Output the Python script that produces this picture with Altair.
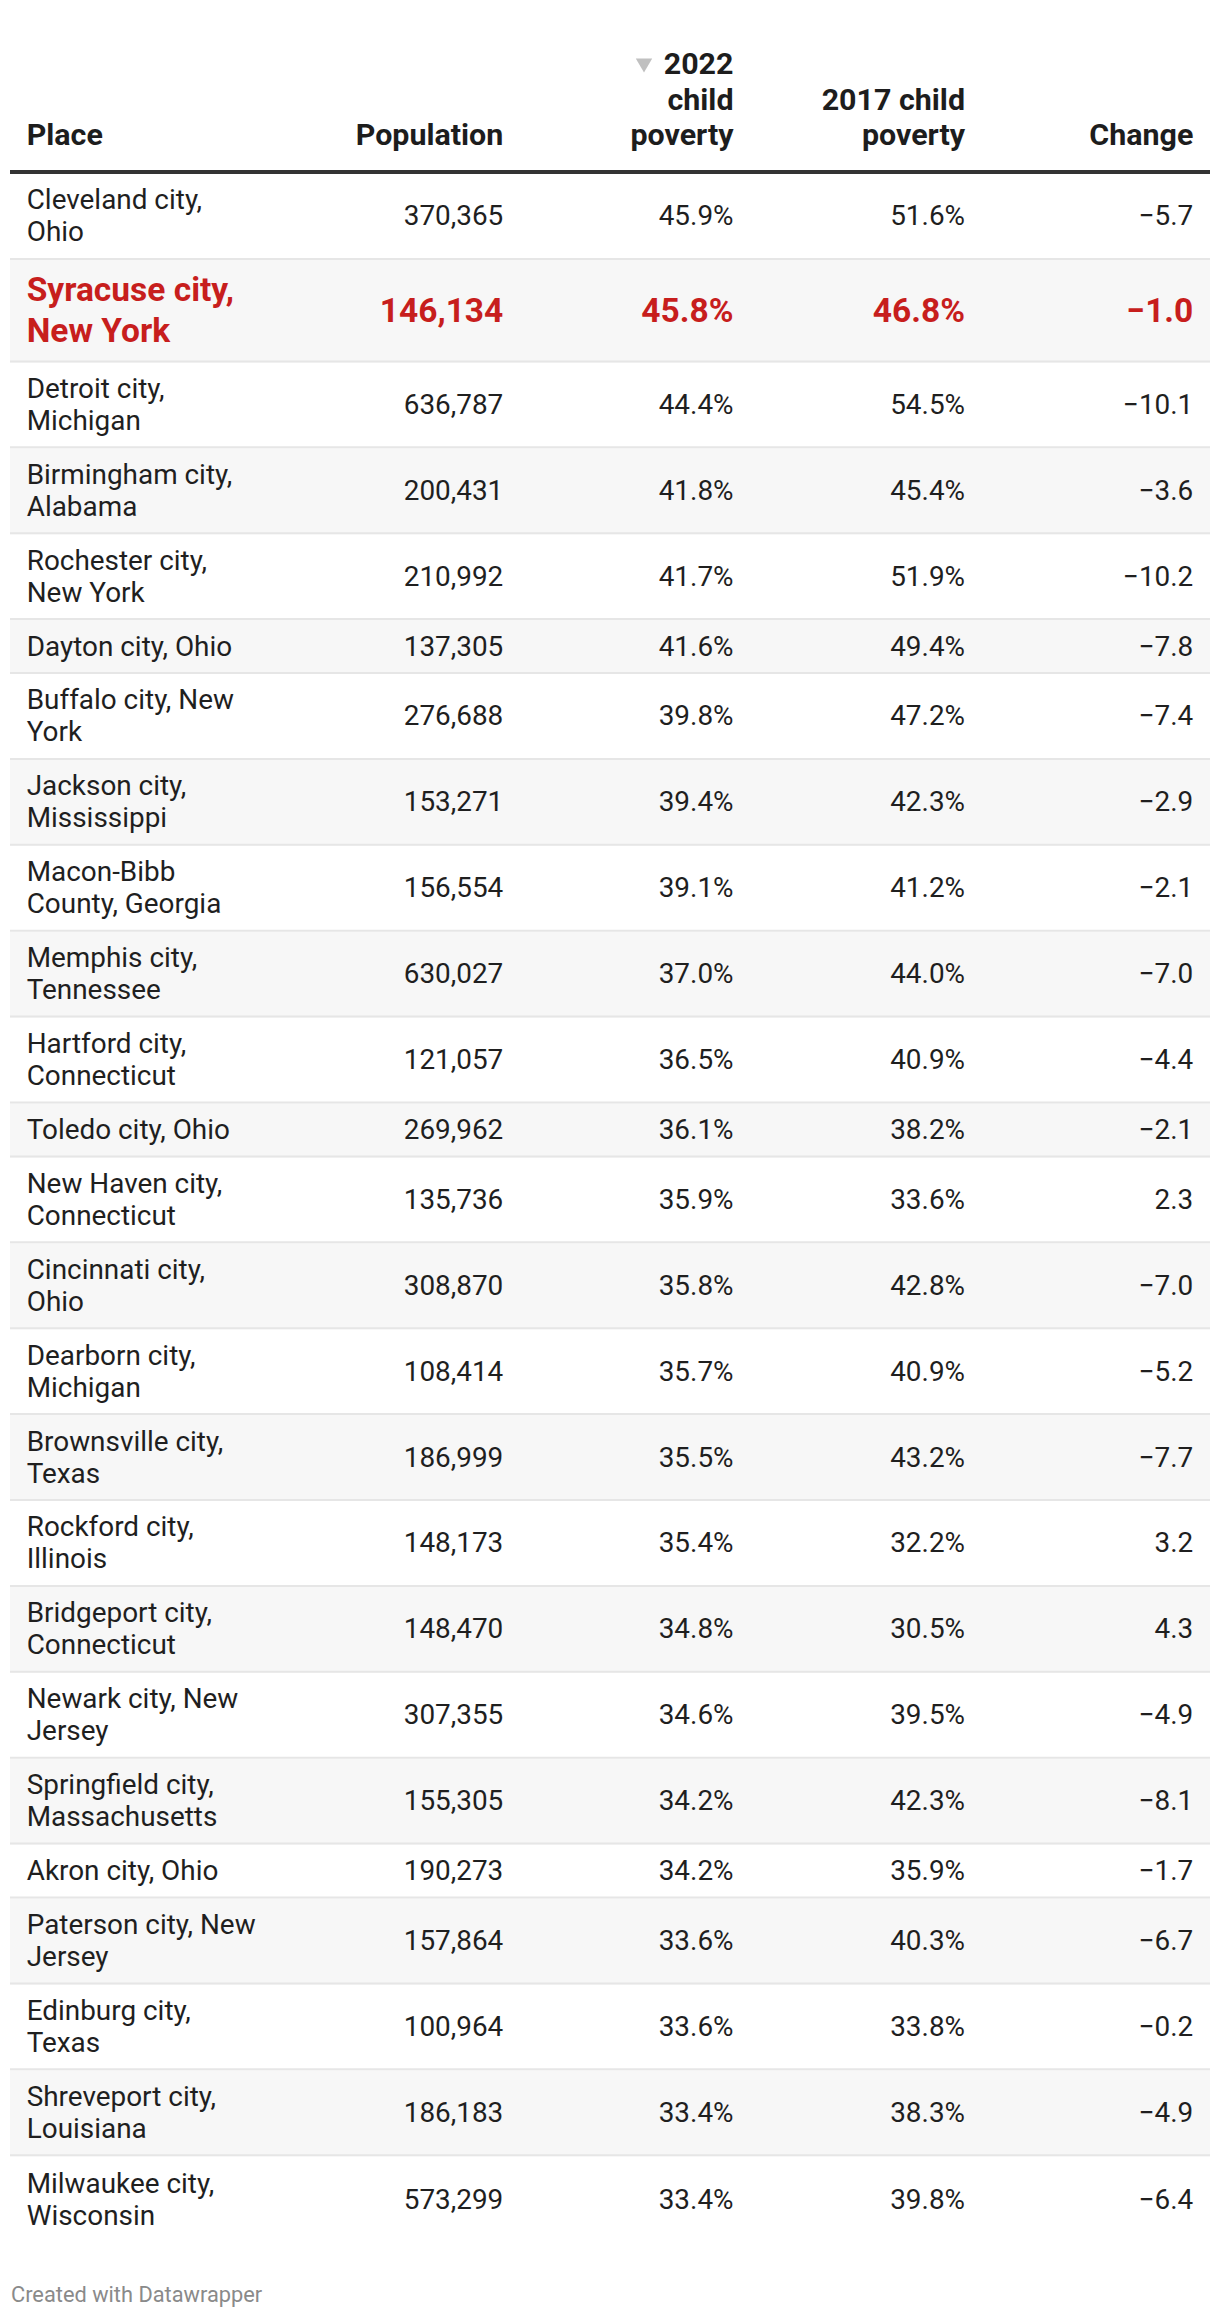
import altair as alt
import pandas as pd

# ---------------- data ----------------
headers = ["Place", "Population", "2022\nchild\npoverty", "2017 child\npoverty", "Change"]
places = [
    "Cleveland city,\nOhio", "Syracuse city,\nNew York", "Detroit city,\nMichigan",
    "Birmingham city,\nAlabama", "Rochester city,\nNew York", "Dayton city, Ohio",
    "Buffalo city, New\nYork", "Jackson city,\nMississippi", "Macon-Bibb\nCounty, Georgia",
    "Memphis city,\nTennessee", "Hartford city,\nConnecticut", "Toledo city, Ohio",
    "New Haven city,\nConnecticut", "Cincinnati city,\nOhio", "Dearborn city,\nMichigan",
    "Brownsville city,\nTexas", "Rockford city,\nIllinois", "Bridgeport city,\nConnecticut",
    "Newark city, New\nJersey", "Springfield city,\nMassachusetts", "Akron city, Ohio",
    "Paterson city, New\nJersey", "Edinburg city,\nTexas", "Shreveport city,\nLouisiana",
    "Milwaukee city,\nWisconsin",
]
population = [370365, 146134, 636787, 200431, 210992, 137305, 276688, 153271, 156554,
              630027, 121057, 269962, 135736, 308870, 108414, 186999, 148173, 148470,
              307355, 155305, 190273, 157864, 100964, 186183, 573299]
poverty_2022 = [45.9, 45.8, 44.4, 41.8, 41.7, 41.6, 39.8, 39.4, 39.1, 37.0, 36.5, 36.1,
                35.9, 35.8, 35.7, 35.5, 35.4, 34.8, 34.6, 34.2, 34.2, 33.6, 33.6, 33.4, 33.4]
poverty_2017 = [51.6, 46.8, 54.5, 45.4, 51.9, 49.4, 47.2, 42.3, 41.2, 44.0, 40.9, 38.2,
                33.6, 42.8, 40.9, 43.2, 32.2, 30.5, 39.5, 42.3, 35.9, 40.3, 33.8, 38.3, 39.8]
change = [-5.7, -1.0, -10.1, -3.6, -10.2, -7.8, -7.4, -2.9, -2.1, -7.0, -4.4, -2.1,
          2.3, -7.0, -5.2, -7.7, 3.2, 4.3, -4.9, -8.1, -1.7, -6.7, -0.2, -4.9, -6.4]
highlight = "Syracuse city,\nNew York"
footer = "Created with Datawrapper"

# ---------------- layout ----------------
W, H = 1204, 2300
OFF = 8
col_x = [26.7 - OFF, 503.3 - OFF, 733.5 - OFF, 965 - OFF, 1193.3 - OFF]
L, R = 10 - OFF, 1210 - OFF
FS, LH = 27.9, 32.0
FS_HL, LH_HL = 33.5, 40.3
FS_HEAD, LH_HEAD = 30.4, 35.3
PAD = 21.9
TEXT = "#1f1f1f"
RED = "#c71e1d"


def fmt_pop(v):
    return f"{v:,}"


def fmt_pct(v):
    return f"{v:.1f}%"


def fmt_chg(v):
    return f"{v:.1f}".replace("-", "\u2212")


text_rows = []   # x, y, text, color, size, align, bold
rect_rows = []
rule_rows = []

# header
head_base = 145 - OFF
for c, h in enumerate(headers):
    lines = h.split("\n")
    n = len(lines)
    for i, ln in enumerate(lines):
        text_rows.append(dict(x=col_x[c], y=head_base - (n - 1 - i) * LH_HEAD, text=ln,
                              color="#1d1d1d", size=FS_HEAD,
                              align="left" if c == 0 else "right", bold=True))
rule_rows.append(dict(x1=L, x2=R, y=172 - OFF, color="#333333", sw=4))

# body
y = 174 - OFF
for r, p in enumerate(places):
    hl = p == highlight
    fs, lh = (FS_HL, LH_HL) if hl else (FS, LH)
    color = RED if hl else TEXT
    lines = p.split("\n")
    n = len(lines)
    h = PAD + n * lh
    y0, y1 = y, y + h
    last = r == len(places) - 1
    cb = y1 - (0 if last else 2)
    center = (y0 + cb) / 2
    if r % 2 == 1:
        rect_rows.append(dict(x1=L, x2=R, y1=y0, y2=y1))
    if not last:
        rule_rows.append(dict(x1=L, x2=R, y=y1 - 1, color="#e6e6e6", sw=2))
    base = center + 0.34 * fs
    for i, ln in enumerate(lines):
        text_rows.append(dict(x=col_x[0], y=base + (i - (n - 1) / 2) * lh, text=ln,
                              color=color, size=fs, align="left", bold=hl))
    vals = [fmt_pop(population[r]), fmt_pct(poverty_2022[r]),
            fmt_pct(poverty_2017[r]), fmt_chg(change[r])]
    for c, v in enumerate(vals, start=1):
        text_rows.append(dict(x=col_x[c], y=base, text=v, color=color, size=fs,
                              align="right", bold=hl))
    y = y1

text_rows.append(dict(x=11 - OFF, y=2301.7 - OFF, text=footer, color="#8a8a8a",
                      size=21.8, align="left", bold=False))

tdf = pd.DataFrame(text_rows)
xs = alt.Scale(domain=[0, W], range=[0, W], nice=False, zero=False)
ys = alt.Scale(domain=[0, H], range=[0, H], nice=False, zero=False)


def text_layer(df, align, bold):
    return alt.Chart(df).mark_text(
        align=align, baseline="alphabetic", font="Roboto",
        fontWeight="bold" if bold else "normal",
    ).encode(
        x=alt.X("x:Q", scale=xs, axis=None),
        y=alt.Y("y:Q", scale=ys, axis=None),
        text=alt.Text("text:N"),
        color=alt.Color("color:N", scale=None),
        size=alt.Size("size:Q", scale=None),
    )


layers = []
layers.append(alt.Chart(pd.DataFrame(rect_rows)).mark_rect(color="#f7f7f7").encode(
    x=alt.X("x1:Q", scale=xs, axis=None), x2="x2:Q",
    y=alt.Y("y1:Q", scale=ys, axis=None), y2="y2:Q"))
layers.append(alt.Chart(pd.DataFrame(rule_rows)).mark_rule().encode(
    x=alt.X("x1:Q", scale=xs, axis=None), x2="x2:Q",
    y=alt.Y("y:Q", scale=ys, axis=None),
    color=alt.Color("color:N", scale=None),
    strokeWidth=alt.StrokeWidth("sw:Q", scale=None)))
# sort indicator
tri = pd.DataFrame([dict(x=644 - OFF, y=65.5 - OFF)])
layers.append(alt.Chart(tri).mark_point(shape="triangle-down", filled=True, size=270,
                                         color="#c0c0c0", opacity=1).encode(
    x=alt.X("x:Q", scale=xs, axis=None), y=alt.Y("y:Q", scale=ys, axis=None)))
for align in ["left", "right"]:
    for bold in [False, True]:
        sub = tdf[(tdf["align"] == align) & (tdf["bold"] == bold)][["x", "y", "text", "color", "size"]]
        if len(sub):
            layers.append(text_layer(sub, align, bold))

chart = alt.layer(*layers).properties(
    width=W, height=H, padding=0,
    autosize=alt.AutoSizeParams(type="none"),
    background="white",
).configure_view(stroke=None)

chart.save("out.html", embed_options={"renderer": "svg", "actions": False})
